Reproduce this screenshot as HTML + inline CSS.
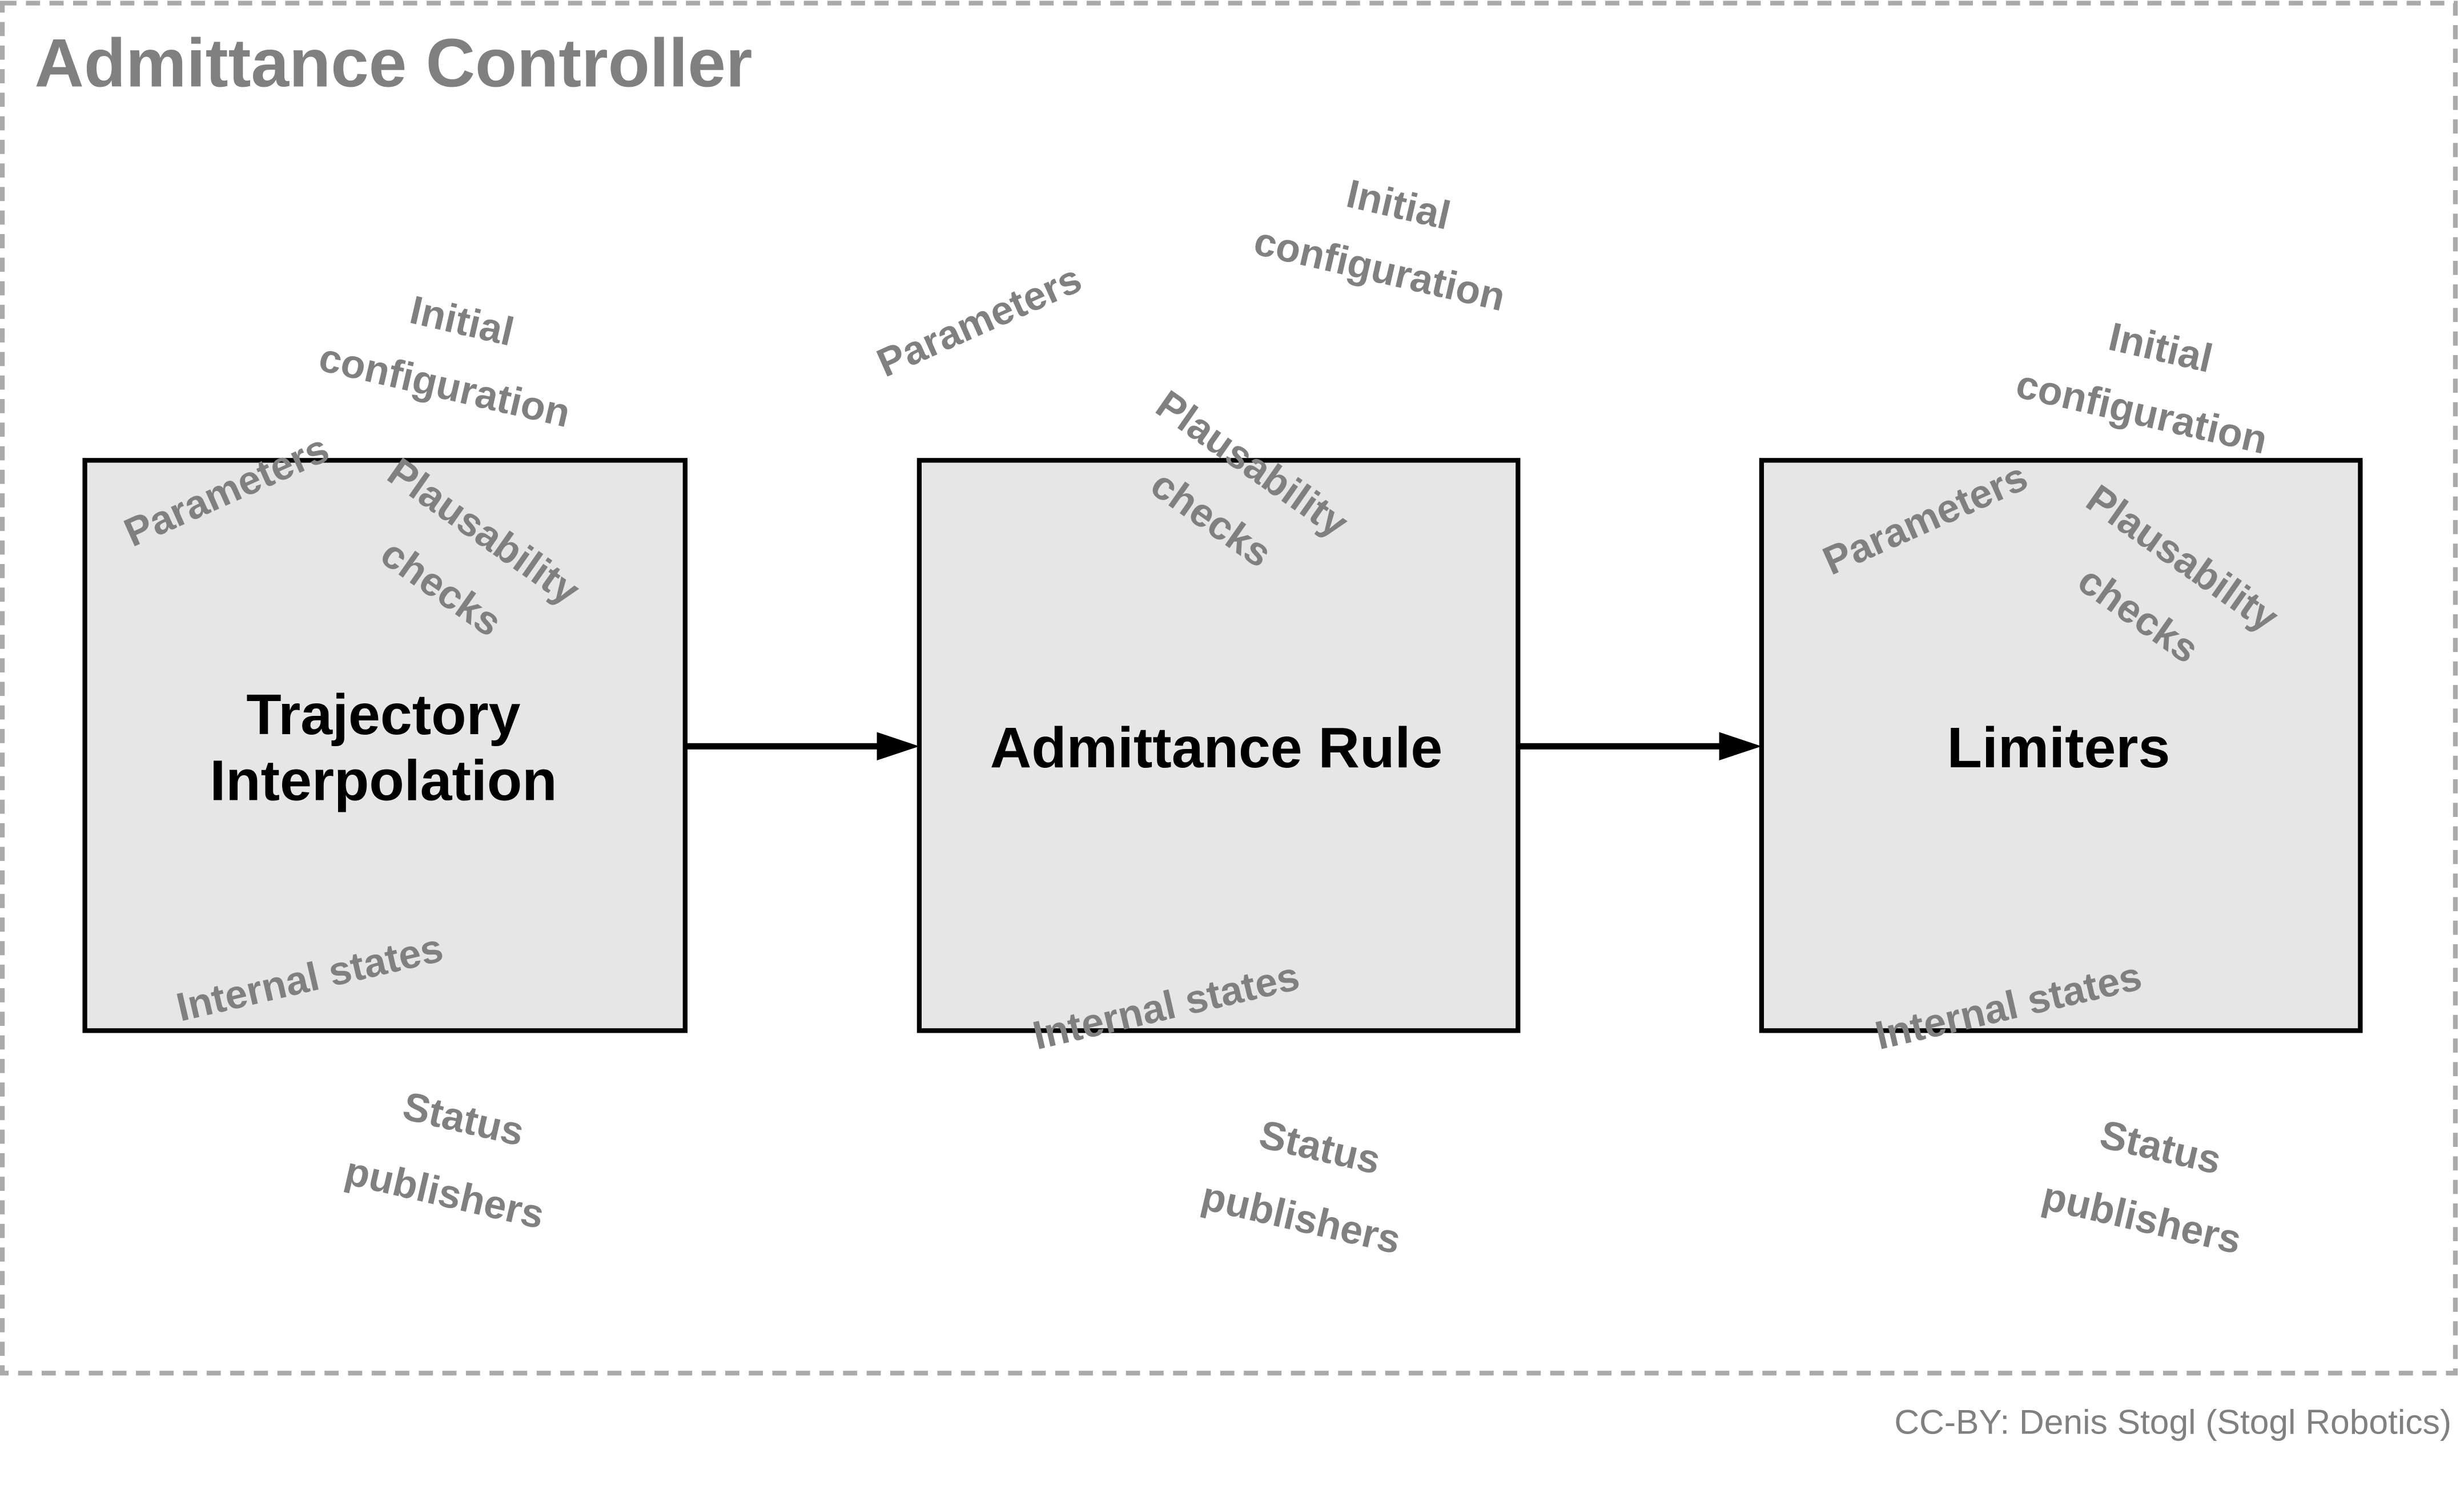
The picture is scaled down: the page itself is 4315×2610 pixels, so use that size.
<!DOCTYPE html>
<html><head><meta charset="utf-8"><style>
html,body{margin:0;padding:0;background:#fff;}
svg{display:block;}
.g{font-family:"Liberation Sans",sans-serif;font-weight:bold;font-size:25.5px;fill:#808080;text-anchor:middle;dominant-baseline:central;}
.b{font-family:"Liberation Sans",sans-serif;font-weight:bold;font-size:36.5px;fill:#000;text-anchor:middle;dominant-baseline:central;}
</style></head><body>
<svg width="4315" height="2610" viewBox="0 0 1568 948.4" preserveAspectRatio="none" xmlns="http://www.w3.org/2000/svg">
<rect x="1.5" y="2" width="1561" height="872" fill="none" stroke="#aaa" stroke-width="3" stroke-dasharray="9,6"/>
<text x="22" y="55" font-family="Liberation Sans,sans-serif" font-weight="bold" font-size="43.5" fill="#808080">Admittance Controller</text>
<rect x="54" y="293" width="382" height="363" fill="#e6e6e6" stroke="#000" stroke-width="3"/>
<rect x="585" y="293" width="381" height="363" fill="#e6e6e6" stroke="#000" stroke-width="3"/>
<rect x="1121" y="293" width="381" height="363" fill="#e6e6e6" stroke="#000" stroke-width="3"/>
<line x1="436" y1="475" x2="560" y2="475" stroke="#000" stroke-width="4"/>
<path d="M558,466 L585,475 L558,484 z" fill="#000"/>
<line x1="966" y1="475" x2="1096" y2="475" stroke="#000" stroke-width="4"/>
<path d="M1094,466 L1121,475 L1094,484 z" fill="#000"/>
<text class="b" x="244" y="455">Trajectory</text>
<text class="b" x="244" y="497">Interpolation</text>
<text class="b" x="774" y="476">Admittance Rule</text>
<text class="b" x="1310" y="476">Limiters</text>

<g transform="translate(294,204) rotate(13)"><text class="g">Initial</text></g>
<g transform="translate(283,245) rotate(13)"><text class="g">configuration</text></g>
<g transform="translate(144,312) rotate(-24)"><text class="g">Parameters</text></g>
<g transform="translate(308,338) rotate(35)"><text class="g">Plausability</text></g>
<g transform="translate(281,374) rotate(35)"><text class="g">checks</text></g>
<g transform="translate(197,622) rotate(-13)"><text class="g">Internal states</text></g>
<g transform="translate(295,712) rotate(13)"><text class="g">Status</text></g>
<g transform="translate(283,759) rotate(13)"><text class="g">publishers</text></g>

<g transform="translate(890,130) rotate(13)"><text class="g">Initial</text></g>
<g transform="translate(878,171) rotate(13)"><text class="g">configuration</text></g>
<g transform="translate(623,204) rotate(-24)"><text class="g">Parameters</text></g>
<g transform="translate(797,295) rotate(35)"><text class="g">Plausability</text></g>
<g transform="translate(771,330) rotate(35)"><text class="g">checks</text></g>
<g transform="translate(742,640) rotate(-13)"><text class="g">Internal states</text></g>
<g transform="translate(840,730) rotate(13)"><text class="g">Status</text></g>
<g transform="translate(828,775) rotate(13)"><text class="g">publishers</text></g>

<g transform="translate(1375,221) rotate(13)"><text class="g">Initial</text></g>
<g transform="translate(1363,262) rotate(13)"><text class="g">configuration</text></g>
<g transform="translate(1225,330) rotate(-24)"><text class="g">Parameters</text></g>
<g transform="translate(1389,355) rotate(35)"><text class="g">Plausability</text></g>
<g transform="translate(1361,391) rotate(35)"><text class="g">checks</text></g>
<g transform="translate(1278,640) rotate(-13)"><text class="g">Internal states</text></g>
<g transform="translate(1375,730) rotate(13)"><text class="g">Status</text></g>
<g transform="translate(1363,775) rotate(13)"><text class="g">publishers</text></g>

<text x="1560" y="905" text-anchor="end" dominant-baseline="central" font-family="Liberation Sans,sans-serif" font-size="22" fill="#808080">CC-BY: Denis Stogl (Stogl Robotics)</text>
</svg>
</body></html>
